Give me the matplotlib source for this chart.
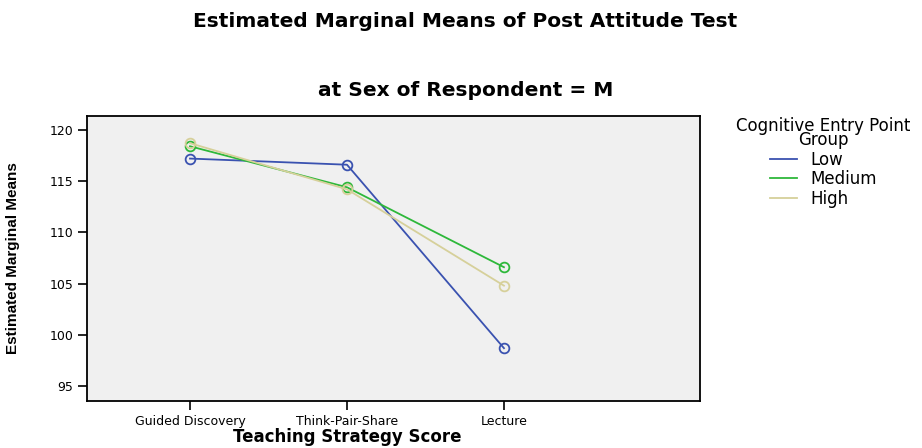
import numpy as np
import matplotlib.pyplot as plt

plt.rcParams['font.family'] = ['DejaVu Sans']

strategies = ['Guided Discovery', 'Think-Pair-Share', 'Lecture']
groups = ['Low', 'Medium', 'High']
low = [117.2, 116.6, 98.7]
medium = [118.4, 114.4, 106.6]
high = [118.7, 114.2, 104.8]
colors = ['#3a52b0', '#2eb83a', '#d6d09a']

fig = plt.figure(figsize=(9.22, 4.48), dpi=100)
ax = fig.add_axes([0.0944, 0.105, 0.665, 0.636])
ax.set_facecolor('#f0f0f0')

x = np.arange(1, len(strategies) + 1)
for vals, name, c in zip([low, medium, high], groups, colors):
    ax.plot(x, vals, color=c, lw=1.3, label=name)
    ax.plot(x, vals, 'o', ms=7, mfc='none', mec=c, mew=1.3, label='_nolegend_')

ax.set_xlim(0.344, 4.25)
ax.set_ylim(93.55, 121.35)
ax.set_yticks([95, 100, 105, 110, 115, 120])
ax.set_xticks(x)
ax.set_xticklabels(strategies)
ax.tick_params(labelsize=9, length=6.5, width=1.2)
for s in ax.spines.values():
    s.set_linewidth(1.3)

ax.set_xlabel('Teaching Strategy Score', fontsize=12, fontweight='bold', va='center')
ax.xaxis.set_label_coords(0.424, -0.126)
ax.set_ylabel('Estimated Marginal Means', fontsize=11, fontweight='bold',
              family=['Liberation Sans Narrow', 'Liberation Sans'])
ax.yaxis.set_label_coords(-0.109, 0.5)

fig.text(0.505, 0.951, 'Estimated Marginal Means of Post Attitude Test',
         ha='center', va='center', fontsize=14.5, fontweight='bold')
fig.text(0.505, 0.799, 'at Sex of Respondent = M',
         ha='center', va='center', fontsize=14.5, fontweight='bold')

leg = fig.legend(title='Cognitive Entry Point\nGroup', loc='upper center',
                 bbox_to_anchor=(0.893, 0.757), frameon=False, fontsize=12,
                 title_fontsize=12, handlelength=1.6, labelspacing=0.1,
                 borderpad=0, handletextpad=0.8)
leg._legend_box.align = 'center'
leg.get_title().set_multialignment('center')
leg.get_title().set_linespacing(0.7)

fig.savefig('out.png', dpi=100)
